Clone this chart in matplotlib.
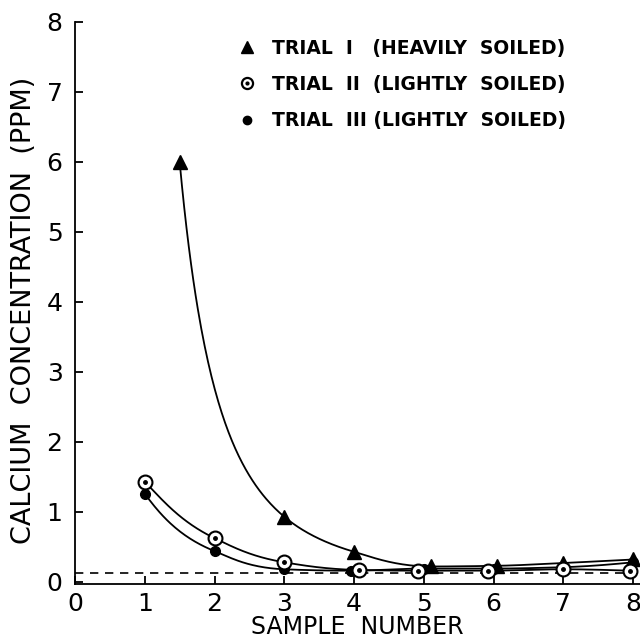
import numpy as np
import matplotlib
matplotlib.use("Agg")
import matplotlib.pyplot as plt
from matplotlib.lines import Line2D
from matplotlib.legend_handler import HandlerTuple

# ---- data ----
trial1_x = [1.5, 3.0, 4.0, 5.1, 6.05, 7.0, 8.0]
trial1_y = [6.0, 0.93, 0.43, 0.22, 0.23, 0.27, 0.32]

trial2_x = [1.0, 2.0, 3.0, 4.07, 4.92, 5.92, 7.0, 7.95]
trial2_y = [1.43, 0.625, 0.28, 0.17, 0.16, 0.16, 0.18, 0.16]

trial3_x = [1.0, 2.0, 3.0, 3.96, 5.0, 6.0, 7.0, 8.0]
trial3_y = [1.26, 0.44, 0.18, 0.16, 0.19, 0.19, 0.21, 0.28]

baseline_y = 0.12

legend_labels = ["TRIAL  I   (HEAVILY  SOILED)",
                 "TRIAL  II  (LIGHTLY  SOILED)",
                 "TRIAL  III (LIGHTLY  SOILED)"]
xticks = [0, 1, 2, 3, 4, 5, 6, 7, 8]
yticks = [0, 1, 2, 3, 4, 5, 6, 7, 8]


def pchip(x, y, xn):
    x = np.asarray(x, float); y = np.asarray(y, float)
    h = np.diff(x); d = np.diff(y) / h
    n = len(x); m = np.zeros(n)
    for k in range(1, n - 1):
        if d[k - 1] * d[k] > 0:
            w1 = 2 * h[k] + h[k - 1]; w2 = h[k] + 2 * h[k - 1]
            m[k] = (w1 + w2) / (w1 / d[k - 1] + w2 / d[k])
    def endslope(h0, h1, d0, d1):
        s = ((2 * h0 + h1) * d0 - h0 * d1) / (h0 + h1)
        if np.sign(s) != np.sign(d0):
            s = 0.0
        elif np.sign(d0) != np.sign(d1) and abs(s) > abs(3 * d0):
            s = 3 * d0
        return s
    m[0] = endslope(h[0], h[1], d[0], d[1])
    m[-1] = endslope(h[-1], h[-2], d[-1], d[-2])
    idx = np.clip(np.searchsorted(x, xn) - 1, 0, n - 2)
    t = (xn - x[idx]) / h[idx]
    h00 = 2 * t**3 - 3 * t**2 + 1; h10 = t**3 - 2 * t**2 + t
    h01 = -2 * t**3 + 3 * t**2; h11 = t**3 - t**2
    return (h00 * y[idx] + h10 * h[idx] * m[idx] + h01 * y[idx + 1]
            + h11 * h[idx] * m[idx + 1])


def smooth(xs, ys):
    lx = np.log(xs); ly = np.log(ys)
    xn = np.linspace(xs[0], xs[-1], 400)
    return xn, np.exp(pchip(lx, ly, np.log(xn)))


fig = plt.figure(figsize=(6.4, 6.39), dpi=100)
ax = fig.add_axes([0.1172, 0.0861, 0.883, 0.8795])

lw = 1.3
ax.plot([0, 8], [baseline_y, baseline_y], ls=(0, (5, 4)), color="black", lw=1.2)

for xs, ys in [(trial1_x, trial1_y), (trial2_x, trial2_y), (trial3_x, trial3_y)]:
    sx, sy = smooth(np.array(xs), np.array(ys))
    ax.plot(sx, sy, color="black", lw=lw)

ax.plot(trial1_x, trial1_y, ls="none", marker="^", ms=10, color="black", zorder=5)
ax.plot(trial2_x, trial2_y, ls="none", marker="o", ms=10, mfc="white",
        mec="black", mew=1.5, zorder=6)
ax.plot(trial2_x, trial2_y, ls="none", marker="o", ms=2.5, color="black", zorder=7)
ax.plot(trial3_x, trial3_y, ls="none", marker="o", ms=7, color="black", zorder=5)

ax.set_xlim(0, 8.1)
ax.set_ylim(-0.03, 8)
ax.set_xticks(xticks)
ax.set_yticks(yticks)
ax.spines["top"].set_visible(False)
ax.spines["right"].set_visible(False)
for s in ["left", "bottom"]:
    ax.spines[s].set_linewidth(1.3)
ax.tick_params(direction="in", length=6, width=1.3, labelsize=18)
ax.tick_params(axis="y", pad=9)
ax.tick_params(axis="x", pad=6)

ax.set_xlabel("SAMPLE  NUMBER", fontsize=17)
ax.xaxis.set_label_coords(0.5, -0.0555)
ax.set_ylabel("CALCIUM  CONCENTRATION  (PPM)", fontsize=19.5)
ax.yaxis.set_label_coords(-0.067, 0.487)

# legend
lh1 = Line2D([], [], ls="none", marker="^", ms=9, color="black")
lh2a = Line2D([], [], ls="none", marker="o", ms=8, mfc="white", mec="black", mew=1.6)
lh2b = Line2D([], [], ls="none", marker="o", ms=2, color="black")
lh3 = Line2D([], [], ls="none", marker="o", ms=6, color="black")
leg = ax.legend([lh1, (lh2a, lh2b), lh3], legend_labels,
                loc="upper left", bbox_to_anchor=(0.345, 0.966),
                bbox_transform=fig.transFigure, frameon=False,
                handlelength=1.0, handletextpad=0.85, labelspacing=0.93,
                prop={"size": 13.5, "weight": "bold"},
                handler_map={tuple: HandlerTuple(ndivide=1)})

fig.savefig("out.png", dpi=100)
